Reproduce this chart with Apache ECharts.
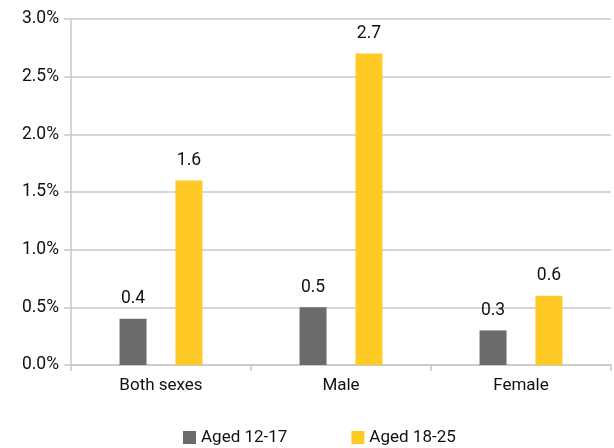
<!DOCTYPE html>
<html><head><meta charset="utf-8">
<script src="https://cdn.jsdelivr.net/npm/echarts@6/dist/echarts.min.js"></script>
<style>html,body{margin:0;padding:0;background:#fff}#c{width:614px;height:448px}</style>
</head><body><div id="c"></div>
<script>
const categories = ['Both sexes', 'Male', 'Female'];
const aged1217 = [0.4, 0.5, 0.3];
const aged1825 = [1.6, 2.7, 0.6];
const seriesNames = ['Aged 12-17', 'Aged 18-25'];

const chart = echarts.init(document.getElementById('c'), null, {renderer: 'canvas'});
const font = 'Roboto, "Liberation Sans", sans-serif';
const lineColor = '#c8c8c8';
chart.setOption({
  animation: false,
  textStyle: {fontFamily: font},
  grid: {left: 71, right: 3, top: 19, bottom: 83},
  legend: {
    bottom: -3, left: 178, itemWidth: 13, itemHeight: 13, itemGap: 64,
    icon: 'rect',
    textStyle: {fontSize: 17, color: '#111', fontFamily: font},
    data: seriesNames
  },
  xAxis: {
    type: 'category', data: categories,
    axisLine: {lineStyle: {color: lineColor, width: 1.5}},
    axisTick: {show: true, length: 6, lineStyle: {color: lineColor, width: 1.5}},
    axisLabel: {fontSize: 17, color: '#111', margin: 12, fontFamily: font}
  },
  yAxis: {
    type: 'value', min: 0, max: 3, interval: 0.5,
    axisLine: {show: true, lineStyle: {color: lineColor, width: 1.5}},
    axisTick: {show: true, length: 7, lineStyle: {color: lineColor, width: 1.5}},
    splitLine: {lineStyle: {color: lineColor, width: 1.5}},
    axisLabel: {fontSize: 17.5, color: '#111', margin: 12, fontFamily: font,
      formatter: v => v.toFixed(1) + '%'}
  },
  series: [
    {name: seriesNames[0], type: 'bar', data: aged1217, barWidth: 27, barGap: '107%',
     itemStyle: {color: '#6b6b6b'},
     label: {show: true, position: 'top', distance: 11, fontSize: 17.5, color: '#111', fontFamily: font,
       formatter: p => p.value.toFixed(1)}},
    {name: seriesNames[1], type: 'bar', data: aged1825, barWidth: 27,
     itemStyle: {color: '#ffca26'},
     label: {show: true, position: 'top', distance: 11, fontSize: 17.5, color: '#111', fontFamily: font,
       formatter: p => p.value.toFixed(1)}}
  ]
});
</script></body></html>
